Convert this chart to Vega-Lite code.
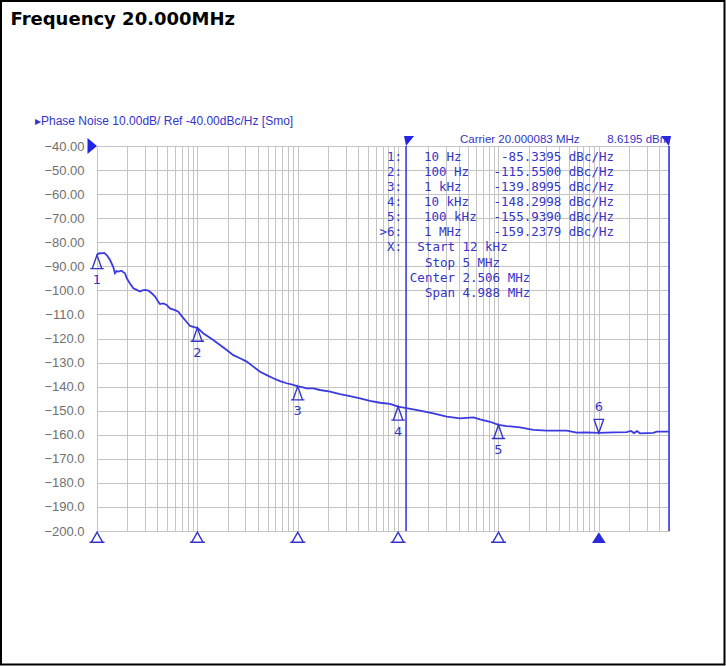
{
  "$schema": "https://vega.github.io/schema/vega-lite/v6.json",
  "width": 572,
  "height": 385,
  "autosize": {"type": "none"},
  "padding": {"left": 97, "top": 146, "right": 57, "bottom": 135},
  "background": "white",
  "config": {
    "view": {"stroke": "#8f8f8f", "strokeWidth": 1}
  },
  "datasets": {
    "border": [{"f": 1.1055, "f2": 17862000, "db": 20.26, "db2": -255.48}],
    "title": [{"f": 1.3746, "db": 10.29, "t": "Frequency 20.000MHz"}],
    "header": [{"f": 2.4115, "db": -31.48, "t": "▸Phase Noise 10.00dB/ Ref -40.00dBc/Hz [Smo]"}],
    "notes": [
      {"f": 41370, "db": -38.96, "t": "Carrier 20.000083 MHz"},
      {"f": 1213800, "db": -38.96, "t": "8.6195 dBm"}
    ],
    "table": [
      {"a": "R", "f": 10935, "db": -44.49, "t": "1:"},
      {"a": "R", "f": 10935, "db": -50.77, "t": "2:"},
      {"a": "R", "f": 10935, "db": -57.04, "t": "3:"},
      {"a": "R", "f": 10935, "db": -63.32, "t": "4:"},
      {"a": "R", "f": 10935, "db": -69.59, "t": "5:"},
      {"a": "R", "f": 10935, "db": -75.87, "t": ">6:"},
      {"a": "R", "f": 10935, "db": -82.14, "t": "X:"},
      {"a": "L", "f": 18111, "db": -44.49, "t": "10 Hz"},
      {"a": "L", "f": 18111, "db": -50.77, "t": "100 Hz"},
      {"a": "L", "f": 18111, "db": -57.04, "t": "1 kHz"},
      {"a": "L", "f": 18111, "db": -63.32, "t": "10 kHz"},
      {"a": "L", "f": 18111, "db": -69.59, "t": "100 kHz"},
      {"a": "L", "f": 18111, "db": -75.87, "t": "1 MHz"},
      {"a": "R", "f": 1415400, "db": -44.49, "t": "-85.3395 dBc/Hz"},
      {"a": "R", "f": 1415400, "db": -50.77, "t": "-115.5500 dBc/Hz"},
      {"a": "R", "f": 1415400, "db": -57.04, "t": "-139.8995 dBc/Hz"},
      {"a": "R", "f": 1415400, "db": -63.32, "t": "-148.2998 dBc/Hz"},
      {"a": "R", "f": 1415400, "db": -69.59, "t": "-155.9390 dBc/Hz"},
      {"a": "R", "f": 1415400, "db": -75.87, "t": "-159.2379 dBc/Hz"},
      {"a": "R", "f": 36874, "db": -82.14, "t": "Start"},
      {"a": "R", "f": 36874, "db": -88.42, "t": "Stop"},
      {"a": "R", "f": 36874, "db": -94.69, "t": "Center"},
      {"a": "R", "f": 36874, "db": -100.97, "t": "Span"},
      {"a": "L", "f": 43817, "db": -82.14, "t": "12 kHz"},
      {"a": "L", "f": 43817, "db": -88.42, "t": "5 MHz"},
      {"a": "L", "f": 43817, "db": -94.69, "t": "2.506 MHz"},
      {"a": "L", "f": 43817, "db": -100.97, "t": "4.988 MHz"}
    ],
    "lines": [
      {"f": 12000, "db": -40, "db2": -200},
      {"f": 5000000, "db": -40, "db2": -200}
    ],
    "trace": [
      {"f": 10, "db": -85.3}, {"f": 10.5, "db": -84.5}, {"f": 11.1, "db": -84.6}, {"f": 11.8, "db": -84.4},
      {"f": 12.5, "db": -85.3}, {"f": 13.5, "db": -87.4}, {"f": 14.5, "db": -90.2}, {"f": 15.1, "db": -92.9},
      {"f": 15.7, "db": -92.0}, {"f": 16.3, "db": -92.2}, {"f": 17.6, "db": -91.8}, {"f": 18.3, "db": -92.5},
      {"f": 19.0, "db": -92.9}, {"f": 19.8, "db": -95.0}, {"f": 21.3, "db": -97.1}, {"f": 23.0, "db": -99.1},
      {"f": 24.9, "db": -99.8}, {"f": 26.8, "db": -100.5}, {"f": 28.3, "db": -100.0}, {"f": 30.1, "db": -99.8},
      {"f": 32.5, "db": -100.1}, {"f": 35.1, "db": -101.2}, {"f": 37.9, "db": -102.6}, {"f": 40.8, "db": -104.7},
      {"f": 42.4, "db": -105.7}, {"f": 45.8, "db": -105.4}, {"f": 49.5, "db": -106.1}, {"f": 53.4, "db": -107.5},
      {"f": 59.9, "db": -108.2}, {"f": 64.6, "db": -108.9}, {"f": 69.8, "db": -110.7}, {"f": 75.3, "db": -112.3},
      {"f": 84.5, "db": -114.8}, {"f": 94.7, "db": -115.4}, {"f": 100, "db": -115.6}, {"f": 106, "db": -116.5},
      {"f": 115, "db": -117.9}, {"f": 129, "db": -119.3}, {"f": 144, "db": -120.6}, {"f": 168, "db": -122.7},
      {"f": 196, "db": -124.8}, {"f": 228, "db": -126.9}, {"f": 266, "db": -128.2}, {"f": 310, "db": -129.6},
      {"f": 361, "db": -131.7}, {"f": 421, "db": -133.8}, {"f": 491, "db": -135.2}, {"f": 571, "db": -136.5},
      {"f": 666, "db": -137.7}, {"f": 776, "db": -138.6}, {"f": 903, "db": -139.3}, {"f": 1000, "db": -139.9},
      {"f": 1053, "db": -140.0}, {"f": 1228, "db": -140.7}, {"f": 1429, "db": -140.7}, {"f": 1667, "db": -141.4},
      {"f": 2097, "db": -142.1}, {"f": 2637, "db": -143.1}, {"f": 3317, "db": -143.9}, {"f": 4172, "db": -144.9},
      {"f": 5248, "db": -145.9}, {"f": 6600, "db": -146.7}, {"f": 8302, "db": -147.2}, {"f": 10000, "db": -148.3},
      {"f": 11718, "db": -148.8}, {"f": 16522, "db": -150.0}, {"f": 22422, "db": -151.1}, {"f": 30488, "db": -152.5},
      {"f": 41370, "db": -153.2}, {"f": 56130, "db": -152.8}, {"f": 65450, "db": -153.6}, {"f": 82310, "db": -154.6},
      {"f": 100000, "db": -155.9}, {"f": 120800, "db": -156.4}, {"f": 163800, "db": -156.9}, {"f": 222300, "db": -158.0},
      {"f": 302300, "db": -158.3}, {"f": 478200, "db": -158.3}, {"f": 601500, "db": -159.1}, {"f": 756800, "db": -159.0},
      {"f": 1000000, "db": -159.2}, {"f": 1393000, "db": -159.0}, {"f": 1894000, "db": -158.9}, {"f": 2091000, "db": -158.4},
      {"f": 2240000, "db": -159.3}, {"f": 2400000, "db": -158.5}, {"f": 2570000, "db": -159.4}, {"f": 3487000, "db": -159.2},
      {"f": 3771000, "db": -158.7}, {"f": 5000000, "db": -158.7}
    ],
    "markers": [
      {"f": 10, "db": -85.34, "id": "1"},
      {"f": 100, "db": -115.55, "id": "2"},
      {"f": 1000, "db": -139.9, "id": "3"},
      {"f": 10000, "db": -148.3, "id": "4"},
      {"f": 100000, "db": -155.94, "id": "5"}
    ],
    "active": [{"f": 1000000, "db": -159.24, "id": "6"}],
    "bottom": [
      {"f": 10, "db": -200}, {"f": 100, "db": -200}, {"f": 1000, "db": -200},
      {"f": 10000, "db": -200}, {"f": 100000, "db": -200}
    ],
    "bottomActive": [{"f": 1000000, "db": -200}],
    "ref": [{"f": 10, "db": -40}],
    "startFlag": [{"f": 12000, "db": -40}],
    "stopFlag": [{"f": 5000000, "db": -40}]
  },
  "encoding": {
    "x": {
      "field": "f",
      "type": "quantitative",
      "title": null,
      "scale": {"type": "log", "domain": [10, 5000000], "nice": false},
      "axis": {
        "values": [10, 20, 30, 40, 50, 60, 70, 80, 90,
                   100, 200, 300, 400, 500, 600, 700, 800, 900,
                   1000, 2000, 3000, 4000, 5000, 6000, 7000, 8000, 9000,
                   10000, 20000, 30000, 40000, 50000, 60000, 70000, 80000, 90000,
                   100000, 200000, 300000, 400000, 500000, 600000, 700000, 800000, 900000,
                   1000000, 2000000, 3000000, 4000000, 5000000],
        "grid": true,
        "gridColor": "#c4c4c4",
        "gridWidth": 1,
        "labels": false,
        "ticks": false,
        "domain": false,
        "title": null
      }
    },
    "y": {
      "field": "db",
      "type": "quantitative",
      "title": null,
      "scale": {"domain": [-200, -40], "nice": false, "zero": false},
      "axis": {
        "values": [-40, -50, -60, -70, -80, -90, -100, -110, -120, -130, -140, -150, -160, -170, -180, -190, -200],
        "grid": true,
        "gridColor": "#c4c4c4",
        "gridWidth": 1,
        "ticks": false,
        "domain": false,
        "labelPadding": 13,
        "labelFont": "Liberation Sans",
        "labelFontSize": 13,
        "labelColor": "#707070",
        "labelOverlap": false,
        "labelExpr": "datum.value > -100 ? format(datum.value, '.2f') : format(datum.value, '.1f')",
        "title": null
      }
    }
  },
  "layer": [
    {
      "data": {"name": "border"},
      "mark": {"type": "rect", "filled": false, "stroke": "#000000", "strokeWidth": 2},
      "encoding": {"x2": {"field": "f2"}, "y2": {"field": "db2"}}
    },
    {
      "data": {"name": "lines"},
      "mark": {"type": "rule", "color": "#2f2fe0", "strokeWidth": 1.5},
      "encoding": {"y2": {"field": "db2"}}
    },
    {
      "data": {"name": "trace"},
      "mark": {"type": "line", "color": "#3a3ae0", "strokeWidth": 1.8}
    },
    {
      "data": {"name": "markers"},
      "mark": {"type": "point", "shape": "M0,0 L-0.35,1 L0.35,1 Z M-0.5,1 L0.5,1", "size": 729, "filled": false, "stroke": "#3434c8", "strokeWidth": 1.4, "opacity": 1}
    },
    {
      "data": {"name": "markers"},
      "mark": {"type": "text", "dy": 25, "font": "DejaVu Sans", "fontSize": 13, "color": "#3434c8", "align": "center", "baseline": "middle"},
      "encoding": {"text": {"field": "id"}}
    },
    {
      "data": {"name": "active"},
      "mark": {"type": "point", "shape": "M0,0 L-0.35,-1 L0.35,-1 Z", "size": 729, "filled": false, "stroke": "#3434c8", "strokeWidth": 1.4, "opacity": 1}
    },
    {
      "data": {"name": "active"},
      "mark": {"type": "text", "dy": -26, "font": "DejaVu Sans", "fontSize": 13, "color": "#3434c8", "align": "center", "baseline": "middle"},
      "encoding": {"text": {"field": "id"}}
    },
    {
      "data": {"name": "bottom"},
      "mark": {"type": "point", "shape": "M0,0.1 L-0.45,0.9 L0.45,0.9 Z M-0.6,0.9 L0.6,0.9", "size": 625, "filled": false, "stroke": "#3434c8", "strokeWidth": 1.5, "opacity": 1}
    },
    {
      "data": {"name": "bottomActive"},
      "mark": {"type": "point", "shape": "M0,0.1 L-0.55,0.95 L0.55,0.95 Z", "size": 625, "filled": true, "color": "#2a2ad8", "opacity": 1}
    },
    {
      "data": {"name": "ref"},
      "mark": {"type": "point", "shape": "M0,0 L-1,-0.85 L-1,0.85 Z", "size": 361, "filled": true, "color": "#2424e6", "opacity": 1}
    },
    {
      "data": {"name": "startFlag"},
      "mark": {"type": "point", "shape": "M0,0 L-0.2,-1 L0.8,-1 Z", "size": 400, "filled": true, "color": "#2424e6", "opacity": 1}
    },
    {
      "data": {"name": "stopFlag"},
      "mark": {"type": "point", "shape": "M0,0 L0.2,-1 L-0.8,-1 Z", "size": 400, "filled": true, "color": "#2424e6", "opacity": 1}
    },
    {
      "data": {"name": "table"},
      "transform": [{"filter": "datum.a === 'L'"}],
      "mark": {"type": "text", "font": "DejaVu Sans Mono", "fontSize": 12.5, "color": "#3434c8", "align": "left", "baseline": "middle"},
      "encoding": {"text": {"field": "t"}}
    },
    {
      "data": {"name": "table"},
      "transform": [{"filter": "datum.a === 'R'"}],
      "mark": {"type": "text", "font": "DejaVu Sans Mono", "fontSize": 12.5, "color": "#3434c8", "align": "right", "baseline": "middle"},
      "encoding": {"text": {"field": "t"}}
    },
    {
      "data": {"name": "header"},
      "mark": {"type": "text", "font": "Liberation Sans", "fontSize": 12, "color": "#3434c8", "align": "left", "baseline": "alphabetic"},
      "encoding": {"text": {"field": "t"}}
    },
    {
      "data": {"name": "notes"},
      "mark": {"type": "text", "font": "Liberation Sans", "fontSize": 11.5, "color": "#3434c8", "align": "left", "baseline": "alphabetic"},
      "encoding": {"text": {"field": "t"}}
    },
    {
      "data": {"name": "title"},
      "mark": {"type": "text", "font": "DejaVu Sans", "fontSize": 18, "fontWeight": "bold", "color": "#000000", "align": "left", "baseline": "alphabetic"},
      "encoding": {"text": {"field": "t"}}
    }
  ]
}
